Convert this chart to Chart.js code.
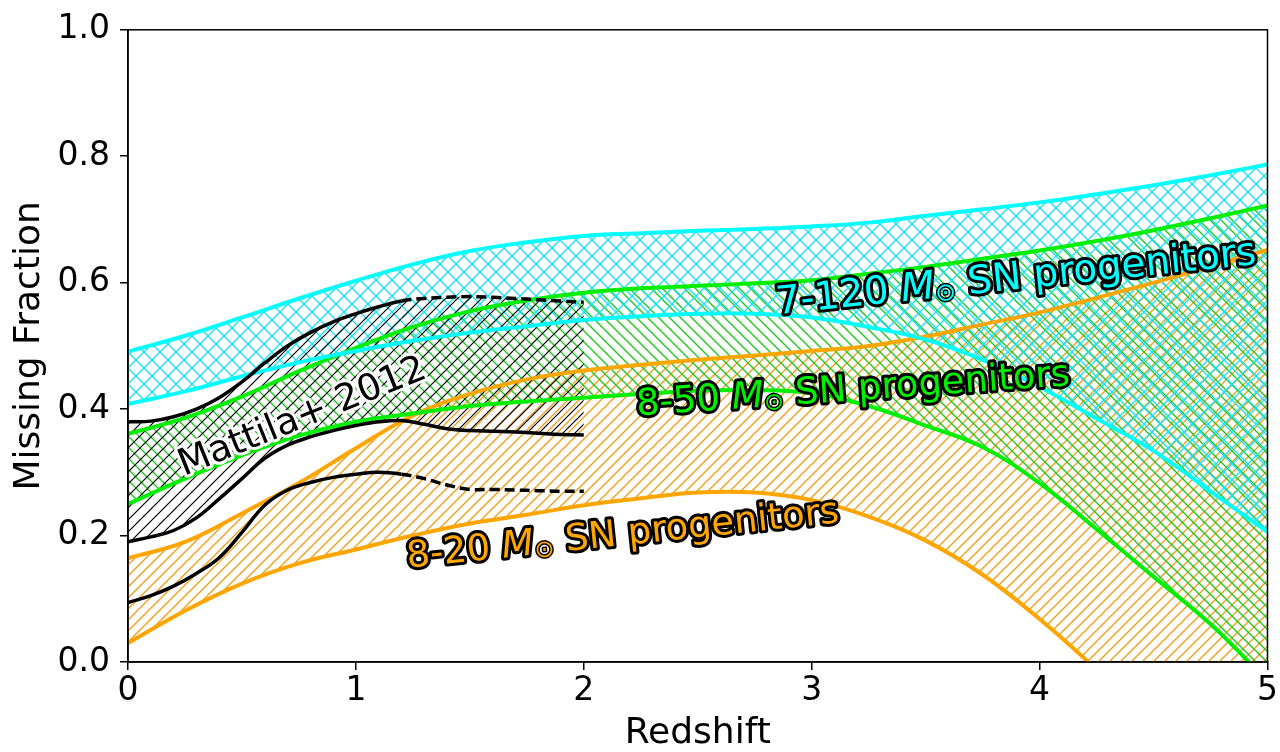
<!DOCTYPE html>
<html>
<head>
<meta charset="utf-8">
<script src="https://cdn.jsdelivr.net/npm/chart.js@4.4.1/dist/chart.umd.min.js"></script>
<style>
    html, body { margin: 0; padding: 0; background: #fff; }
    #wrap { width: 1280px; height: 752px; }
</style>
</head>
<body>
<div id="wrap"><canvas id="chart" width="1280" height="752"></canvas></div>
<script>
/* ================= DATA ================= */

const redshift = [0, 0.25, 0.5, 0.75, 1, 1.25, 1.5, 1.75, 2, 2.25, 2.5, 2.75, 3, 3.25, 3.5, 3.75, 4, 4.25, 4.5, 4.75, 5];

// 7-120 Msun band
const cyanHigh = [0.491, 0.516, 0.545, 0.575, 0.603, 0.629, 0.650, 0.664, 0.674, 0.678, 0.682, 0.685, 0.689, 0.695, 0.706, 0.716, 0.727, 0.740, 0.754, 0.770, 0.787];
const cyanLow = [0.408, 0.428, 0.452, 0.474, 0.492, 0.508, 0.521, 0.531, 0.541, 0.547, 0.551, 0.551, 0.545, 0.530, 0.510, 0.478, 0.435, 0.385, 0.334, 0.270, 0.206];

// 8-50 Msun band
const greenHigh = [0.361, 0.386, 0.420, 0.460, 0.497, 0.530, 0.555, 0.572, 0.584, 0.591, 0.595, 0.599, 0.604, 0.614, 0.625, 0.638, 0.651, 0.666, 0.683, 0.702, 0.722];
const greenLow = [0.250, 0.290, 0.327, 0.358, 0.380, 0.393, 0.405, 0.412, 0.418, 0.424, 0.429, 0.430, 0.425, 0.405, 0.374, 0.340, 0.283, 0.210, 0.135, 0.060, -0.030];

// 8-20 Msun band
const orangeHigh = [0.164, 0.190, 0.235, 0.283, 0.338, 0.390, 0.424, 0.447, 0.461, 0.470, 0.478, 0.485, 0.492, 0.500, 0.515, 0.534, 0.553, 0.576, 0.600, 0.626, 0.652];
const orangeLow = [0.030, 0.081, 0.124, 0.156, 0.178, 0.200, 0.219, 0.233, 0.248, 0.259, 0.268, 0.268, 0.256, 0.230, 0.192, 0.138, 0.068, -0.012, -0.100, -0.195, -0.295];

// Mattila+ 2012
const mattilaZ = [0, 0.1, 0.2, 0.3, 0.4, 0.5, 0.6, 0.7, 0.8, 0.9, 1.0, 1.1, 1.2, 1.3, 1.4, 1.5, 1.6, 1.7, 1.8, 1.9, 2.0];
const mattilaHigh = [0.380, 0.381, 0.388, 0.400, 0.418, 0.443, 0.473, 0.500, 0.521, 0.538, 0.551, 0.562, 0.571, 0.575, 0.577, 0.578, 0.577, 0.575, 0.573, 0.571, 0.569];
const mattilaMid = [0.190, 0.198, 0.208, 0.228, 0.258, 0.290, 0.322, 0.343, 0.356, 0.366, 0.374, 0.380, 0.382, 0.376, 0.369, 0.366, 0.365, 0.364, 0.362, 0.360, 0.359];
const mattilaLow = [0.094, 0.105, 0.120, 0.140, 0.165, 0.205, 0.248, 0.272, 0.284, 0.292, 0.297, 0.300, 0.297, 0.290, 0.280, 0.273, 0.273, 0.272, 0.271, 0.270, 0.270];

const xTicks = [0, 1, 2, 3, 4, 5];
const yTicks = [0, 0.2, 0.4, 0.6, 0.8, 1.0];
const yTickLabels = ["0.0", "0.2", "0.4", "0.6", "0.8", "1.0"];

/* ================= STYLE ================= */

const CYAN = "#00ffff";
const GREEN = "#00ee00";
const ORANGE = "#ffa500";
const FONT = "'DejaVu Sans', sans-serif";

Chart.defaults.color = "#000";
Chart.defaults.font.family = FONT;

function hatch(color, size, dirs, lw) {
    const c = document.createElement("canvas");
    c.width = size;
    c.height = size;
    const g = c.getContext("2d");
    g.strokeStyle = color;
    g.lineWidth = lw;
    dirs.forEach(d => {
        for (let k = -1; k <= 1; k++) {
            g.beginPath();
            if (d === "/") {
                g.moveTo(k * size - 1, size + 1);
                g.lineTo(k * size + size + 1, -1);
            } else {
                g.moveTo(k * size - 1, -1);
                g.lineTo(k * size + size + 1, size + 1);
            }
            g.stroke();
        }
    });
    return g.createPattern(c, "repeat");
}

const pts = (xs, ys) => xs.map((x, i) => ({ x, y: ys[i] }));

// dashed after z = 1.2 for the Mattila bounds
const dashLate = ctx => (ctx.p0.parsed.x >= 1.19 ? [10, 5] : undefined);

function line(data, color, width, extra = {}) {
    return {
        data,
        borderColor: color,
        borderWidth: width,
        pointRadius: 0,
        tension: 0.4,
        fill: false,
        clip: 0,
        ...extra,
    };
}

const datasets = [
    line(pts(mattilaZ, mattilaHigh), "#000", 3.5, {
        fill: 1, backgroundColor: hatch("#000", 12, ["/"], 1.2),
        segment: { borderDash: dashLate }, order: 1,
    }),
    line(pts(mattilaZ, mattilaMid), "#000", 3.5, { order: 1 }),
    line(pts(mattilaZ, mattilaLow), "#000", 3.5, {
        segment: { borderDash: dashLate }, order: 1,
    }),
    line(pts(redshift, cyanHigh), CYAN, 4, {
        fill: 4, backgroundColor: hatch("#22e0f0", 16, ["/", "\\"], 1.4), order: 4,
    }),
    line(pts(redshift, cyanLow), CYAN, 4, { order: 4 }),
    line(pts(redshift, greenHigh), GREEN, 4, {
        fill: 6, backgroundColor: hatch("#22c822", 11, ["\\"], 1.4), order: 5,
    }),
    line(pts(redshift, greenLow), GREEN, 4, { order: 5 }),
    line(pts(redshift, orangeHigh), ORANGE, 4, {
        fill: 8, backgroundColor: hatch("#f0a020", 11, ["/"], 1.4), order: 6,
    }),
    line(pts(redshift, orangeLow), ORANGE, 4, { order: 6 }),
];

/* ================= LABELS ================= */

const textLabels = [
    { parts: [["Mattila+ 2012", "normal", 1]], x: 0.76, y: 0.392, angle: -22, size: 37, fill: "#000", stroke: "#fff", lw: 6 },
    { parts: [["8-20 ", "normal", 1], ["M", "italic", 1], ["\u2299", "normal", 0.65], [" SN progenitors", "normal", 1]],
      x: 2.17, y: 0.206, angle: -6, size: 37, fill: ORANGE, stroke: "#000", lw: 6 },
    { parts: [["8-50 ", "normal", 1], ["M", "italic", 1], ["\u2299", "normal", 0.65], [" SN progenitors", "normal", 1]],
      x: 3.18, y: 0.435, angle: -4, size: 37, fill: "#00ee00", stroke: "#000", lw: 6 },
    { parts: [["7-120 ", "normal", 1], ["M", "italic", 1], ["\u2299", "normal", 0.65], [" SN progenitors", "normal", 1]],
      x: 3.895, y: 0.612, angle: -6, size: 39, fill: CYAN, stroke: "#000", lw: 6 },
];

const labelPlugin = {
    id: "bandLabels",
    afterDatasetsDraw(chart) {
        const { ctx, scales } = chart;
        textLabels.forEach(l => {
            const px = scales.x.getPixelForValue(l.x);
            const py = scales.y.getPixelForValue(l.y);
            ctx.save();
            ctx.translate(px, py);
            ctx.rotate(l.angle * Math.PI / 180);
            ctx.textBaseline = "alphabetic";
            ctx.textAlign = "left";
            ctx.lineJoin = "round";

            const fontOf = p => `${p[1]} ${Math.round(l.size * p[2])}px ${FONT}`;
            let total = 0;
            const widths = l.parts.map(p => {
                ctx.font = fontOf(p);
                const w = ctx.measureText(p[0]).width;
                total += w;
                return w;
            });
            const base = l.size * 0.36;

            ["stroke", "fill"].forEach(pass => {
                let x = -total / 2;
                l.parts.forEach((p, i) => {
                    ctx.font = fontOf(p);
                    const small = p[2] < 1;
                    const y = small ? base + l.size * 0.1 : base;
                    if (pass === "stroke") {
                        ctx.strokeStyle = l.stroke;
                        ctx.lineWidth = small ? 3 : l.lw;
                        ctx.strokeText(p[0], x, y);
                    } else {
                        ctx.fillStyle = l.fill;
                        ctx.fillText(p[0], x, y);
                    }
                    x += widths[i];
                });
            });
            ctx.restore();
        });
    },
};

const framePlugin = {
    id: "frame",
    afterDatasetsDraw(chart) {
        const { ctx, chartArea: a } = chart;
        ctx.save();
        ctx.strokeStyle = "#000";
        ctx.lineWidth = 1.5;
        ctx.strokeRect(a.left, a.top, a.right - a.left, a.bottom - a.top);
        ctx.restore();
    },
};

/* ================= CHART ================= */

new Chart(document.getElementById("chart"), {
    type: "line",
    data: { datasets },
    plugins: [framePlugin, labelPlugin],
    options: {
        responsive: false,
        animation: false,
        devicePixelRatio: 1,
        layout: { padding: { top: 20, right: 12, left: 0, bottom: 0 } },
        plugins: {
            legend: { display: false },
            tooltip: { enabled: false },
            filler: { drawTime: "beforeDatasetsDraw" },
        },
        scales: {
            x: {
                type: "linear",
                min: 0,
                max: 5,
                afterBuildTicks: s => { s.ticks = xTicks.map(v => ({ value: v })); },
                afterFit: s => { s.height = 90; },
                grid: { drawOnChartArea: false, drawTicks: true, tickLength: 8, color: "#000", lineWidth: 1.5 },
                border: { display: true, color: "#000", width: 1.5 },
                ticks: { font: { size: 33 }, padding: 2, maxRotation: 0, callback: v => String(v) },
                title: { display: true, text: "Redshift", font: { size: 36, lineHeight: 1 }, padding: { top: 0, bottom: 0 } },
            },
            y: {
                type: "linear",
                min: 0,
                max: 1,
                afterBuildTicks: s => { s.ticks = yTicks.map(v => ({ value: v })); },
                afterFit: s => { s.width = 128; },
                grid: { drawOnChartArea: false, drawTicks: true, tickLength: 8, color: "#000", lineWidth: 1.5 },
                border: { display: true, color: "#000", width: 1.5 },
                ticks: { font: { size: 33 }, padding: 10, callback: (v, i) => yTickLabels[i] },
                title: { display: true, text: "Missing Fraction", font: { size: 36, lineHeight: 1 }, padding: { top: 12, bottom: 0 } },
            },
        },
    },
});
</script>
</body>
</html>
